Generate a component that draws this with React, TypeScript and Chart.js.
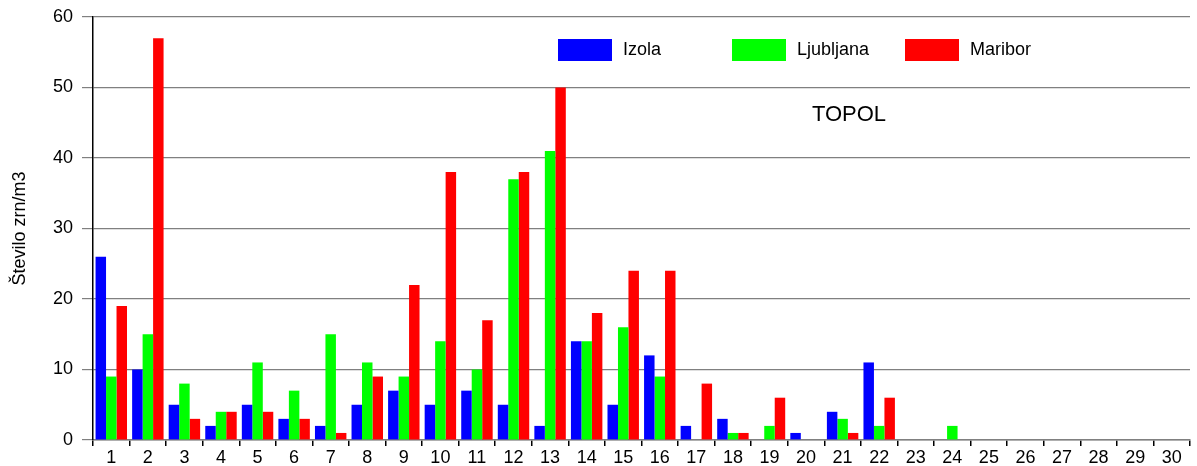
import React, { useEffect, useRef } from "react";
import { Chart, registerables } from "chart.js";

Chart.register(...registerables);

const days = Array.from({ length: 30 }, (_, i) => String(i + 1));
const izola = [26, 10, 5, 2, 5, 3, 2, 5, 7, 5, 7, 5, 2, 14, 5, 12, 2, 3, 0, 1, 4, 11, 0, 0, 0, 0, 0, 0, 0, 0];
const ljubljana = [9, 15, 8, 4, 11, 7, 15, 11, 9, 14, 10, 37, 41, 14, 16, 9, 0, 1, 2, 0, 3, 2, 0, 2, 0, 0, 0, 0, 0, 0];
const maribor = [19, 57, 3, 4, 4, 3, 1, 9, 22, 38, 17, 38, 50, 18, 24, 24, 8, 1, 6, 0, 1, 6, 0, 0, 0, 0, 0, 0, 0, 0];
const seriesNames = ["Izola", "Ljubljana", "Maribor"];
const seriesColors = ["#0000ff", "#00ff00", "#ff0000"];
const yTitle = "Število zrn/m3";
const chartTitle = "TOPOL";

const FONT = "'Liberation Sans', Arial, sans-serif";

const overlayPlugin = {
  id: "overlay",
  afterDraw(chart: any) {
    const ctx = chart.ctx;
    ctx.save();
    const legendX = [558, 732, 905];
    chart.data.datasets.forEach((ds: any, i: number) => {
      const x = legendX[i];
      ctx.fillStyle = ds.backgroundColor;
      ctx.fillRect(x, 39, 54, 22);
      ctx.fillStyle = "#000";
      ctx.font = `18px ${FONT}`;
      ctx.textAlign = "left";
      ctx.textBaseline = "middle";
      ctx.fillText(ds.label, x + 65, 50);
    });
    ctx.font = `22px ${FONT}`;
    ctx.textAlign = "center";
    ctx.textBaseline = "middle";
    ctx.fillStyle = "#000";
    ctx.fillText(chartTitle, 849, 115);
    ctx.restore();
  },
};

export default function App() {
  const ref = useRef<HTMLCanvasElement>(null);
  useEffect(() => {
    document.body.style.margin = "0";
    const chart = new Chart(ref.current!, {
      type: "bar",
      data: {
        labels: days,
        datasets: [izola, ljubljana, maribor].map((d, i) => ({
          label: seriesNames[i],
          data: d,
          backgroundColor: seriesColors[i],
          borderWidth: 0,
          categoryPercentage: 0.86,
          barPercentage: 1,
        })),
      },
      options: {
        animation: false,
        responsive: false,
        maintainAspectRatio: false,
        layout: { padding: { top: 17, right: 7, left: 0, bottom: 0 } },
        plugins: { legend: { display: false }, tooltip: { enabled: false } },
        scales: {
          x: {
            offset: true,
            grid: {
              offset: true,
              drawOnChartArea: false,
              drawTicks: true,
              tickLength: 6,
              color: "#000",
              lineWidth: 1.5,
            },
            border: { color: "#808080", width: 1.5 },
            ticks: { color: "#000", font: { family: FONT, size: 18 }, padding: 1, autoSkip: false, maxRotation: 0 },
            afterFit: (s: any) => {
              s.height = 26;
              s.paddingLeft = 0;
              s.paddingRight = 0;
            },
          },
          y: {
            min: 0,
            max: 60,
            ticks: { stepSize: 10, color: "#000", font: { family: FONT, size: 18 }, padding: 9 },
            grid: { color: "#808080", lineWidth: 1.2, tickLength: 11 },
            border: { color: "#000", width: 1.5 },
            title: {
              display: true,
              text: yTitle,
              color: "#000",
              font: { family: FONT, size: 18 },
              padding: { top: 9, bottom: 0 },
            },
            afterFit: (s: any) => {
              s.width = 93;
              s.paddingTop = 0;
              s.paddingBottom = 0;
            },
          },
        },
      },
      plugins: [overlayPlugin],
    });
    return () => chart.destroy();
  }, []);
  return (
    <div style={{ position: "absolute", left: 0, top: 0, width: 1197, height: 466, background: "#fff" }}>
      <canvas ref={ref} width={1197} height={466} style={{ width: 1197, height: 466 }} />
    </div>
  );
}
